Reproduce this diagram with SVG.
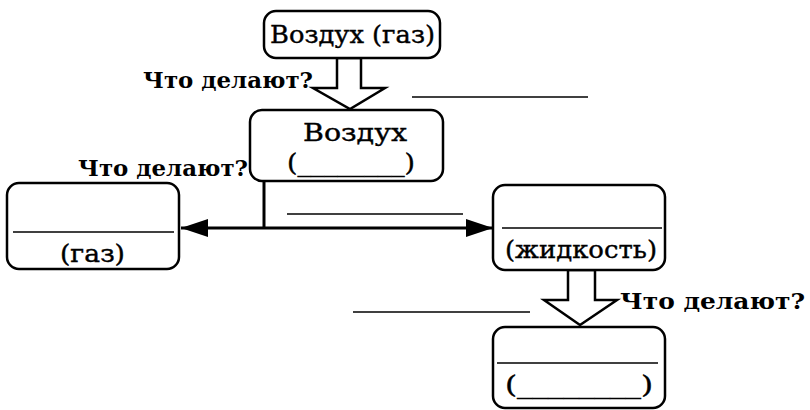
<svg xmlns="http://www.w3.org/2000/svg" width="810" height="410" viewBox="0 0 810 410">
<style>
.box{fill:#fff;stroke:#000;stroke-width:2.5}
.t{font-family:"DejaVu Serif","Liberation Serif",serif;font-size:25px;fill:#000;stroke:#000;stroke-width:0.4}
.q{font-family:"DejaVu Serif","Liberation Serif",serif;font-size:23px;font-weight:bold;fill:#000}
.ln{stroke:#000;stroke-width:1.6;fill:none}
.conn{stroke:#000;stroke-width:3;fill:none}
.hollow{fill:#fff;stroke:#000;stroke-width:2.5;stroke-linejoin:miter}
</style>
<defs>
<marker id="ah" viewBox="0 0 27 18" refX="27" refY="9" markerWidth="27" markerHeight="18" markerUnits="userSpaceOnUse" orient="auto">
<path d="M0,0 L27,9 L0,18 Z" fill="#000"/>
</marker>
</defs>
<rect width="810" height="410" fill="#fff"/>

<g id="connectors">
<polygon class="hollow" points="337,58 337,88 313,88 350,109 385,88 361,88 361,58"/>
<polyline class="conn" points="264,181 264,228"/>
<line class="conn" x1="264" y1="228" x2="181" y2="228" marker-end="url(#ah)"/>
<line class="conn" x1="264" y1="228" x2="493" y2="228" marker-end="url(#ah)"/>
<polygon class="hollow" points="568,270 568,300 544,300 580,325 617,300 595,300 595,270"/>
</g>

<g id="labels">
<text class="q" x="143" y="88" textLength="170" lengthAdjust="spacingAndGlyphs">Что делают?</text>
<line class="ln" x1="412" y1="97" x2="588" y2="97"/>
<text class="q" x="78" y="176" textLength="170" lengthAdjust="spacingAndGlyphs">Что делают?</text>
<line class="ln" x1="287" y1="214" x2="463" y2="214"/>
<text class="q" x="620" y="309" textLength="185" lengthAdjust="spacingAndGlyphs">Что делают?</text>
<line class="ln" x1="353" y1="312" x2="530" y2="312"/>
</g>

<g id="node-air-gas">
<rect class="box" x="264" y="11" width="176" height="47" rx="12"/>
<text class="t" x="270" y="43" textLength="165" lengthAdjust="spacingAndGlyphs">Воздух (газ)</text>
</g>

<g id="node-air">
<rect class="box" x="250" y="110" width="193" height="71" rx="12"/>
<text class="t" x="303" y="141" textLength="104" lengthAdjust="spacingAndGlyphs">Воздух</text>
<text class="t" x="287" y="171" textLength="128" lengthAdjust="spacingAndGlyphs">(________)</text>
</g>

<g id="node-left">
<rect class="box" x="7" y="183" width="172" height="86" rx="12"/>
<line class="ln" x1="13" y1="232" x2="174" y2="232"/>
<text class="t" x="60" y="262" textLength="65" lengthAdjust="spacingAndGlyphs">(газ)</text>
</g>

<g id="node-right">
<rect class="box" x="493" y="185" width="172" height="85" rx="12"/>
<line class="ln" x1="502" y1="228" x2="662" y2="228"/>
<text class="t" x="505" y="258" textLength="152" lengthAdjust="spacingAndGlyphs">(жидкость)</text>
</g>

<g id="node-bottom">
<rect class="box" x="493" y="327" width="172" height="81" rx="12"/>
<line class="ln" x1="497" y1="363" x2="658" y2="363"/>
<text class="t" x="505" y="393" textLength="148" lengthAdjust="spacingAndGlyphs">(________)</text>
</g>
</svg>
